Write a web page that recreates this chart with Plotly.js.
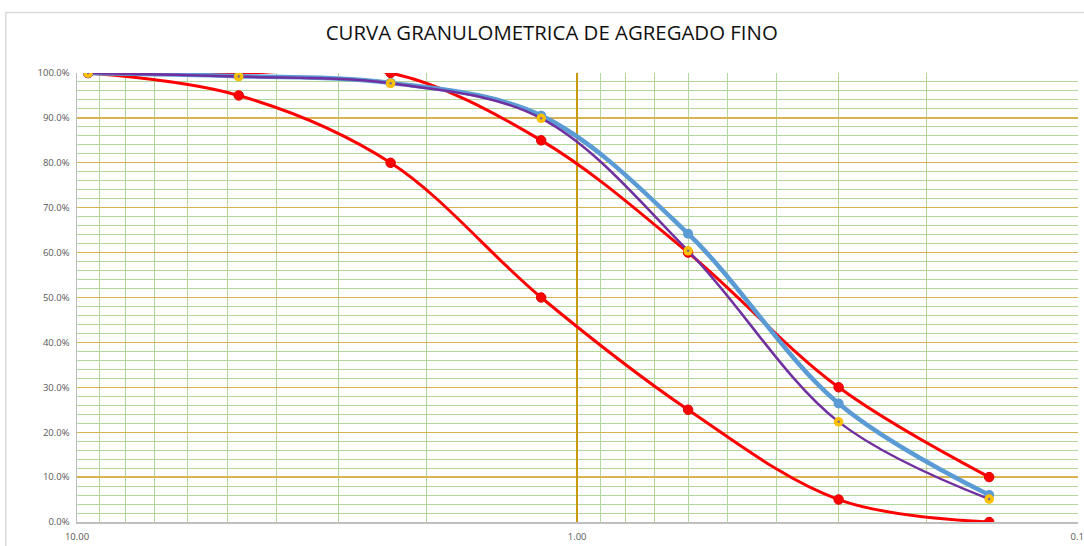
<!DOCTYPE html>
<html>
<head>
<meta charset="utf-8">
<script src="https://cdn.plot.ly/plotly-3.0.1.min.js"></script>
<style>
html,body{margin:0;padding:0;background:#fff;}
#chart{width:1084px;height:546px;}
</style>
</head>
<body>
<div id="chart"></div>
<script>
// Sieve openings (mm)
const sieves = [9.5, 4.75, 2.36, 1.18, 0.6, 0.3, 0.15];
// Upper spec limit (% passing)
const upperLimit = [100, 100, 100, 85, 60, 30, 10];
// Lower spec limit (% passing)
const lowerLimit = [100, 95, 80, 50, 25, 5, 0];
// Sample curve A (blue)
const sampleBlue = [100, 99.3, 97.8, 90.5, 64.2, 26.4, 6.0];
// Sample curve B (purple, yellow markers)
const samplePurple = [100, 99.2, 97.7, 89.9, 60.4, 22.3, 5.1];

const yTickVals = [0,10,20,30,40,50,60,70,80,90,100];
const yTickText = yTickVals.map(v => v.toFixed(1) + '%');
const xMajorVals = [10, 1, 0.1];
const xMajorText = ['10.00', '1.00', '0.1'];
const xMinorVals = [9,8,7,6,5,4,3,2,0.9,0.8,0.7,0.6,0.5,0.4,0.3,0.2];
const xDecadeLogs = [1, 0, -1];

const xRangeLog = [1, -1.0015];

const traces = [
  // helper (no visible mark) so the decade-grid overlay axis is created
  {x: [xDecadeLogs[1]], y: [null], xaxis: 'x2', yaxis: 'y', mode: 'markers', marker: {opacity: 0}, hoverinfo: 'skip'},
  {x: sieves, y: lowerLimit, mode: 'lines+markers', line: {color: '#FF0000', width: 3, shape: 'spline', smoothing: 1},
   marker: {color: '#FF0000', size: 9.5, line: {color: '#E00000', width: 1}}},
  {x: sieves, y: upperLimit, mode: 'lines+markers', line: {color: '#FF0000', width: 3, shape: 'spline', smoothing: 1},
   marker: {color: '#FF0000', size: 9.5, line: {color: '#E00000', width: 1}}},
  {x: sieves, y: sampleBlue, mode: 'lines+markers', line: {color: '#5B9BD5', width: 4.5, shape: 'spline', smoothing: 1},
   marker: {color: '#5B9BD5', size: 10}},
  {x: sieves, y: samplePurple, mode: 'lines+markers', line: {color: '#7030A0', width: 2.5, shape: 'spline', smoothing: 1},
   marker: {color: '#FFC000', size: 9.5}},
  {x: sieves, y: samplePurple, mode: 'markers', marker: {color: '#7F6A8F', size: 2.5}}
];

const tickFont = {family: 'Open Sans, sans-serif', size: 9.5, color: '#595959'};

const layout = {
  width: 1084, height: 546,
  margin: {l: 77, r: 6, t: 73, b: 24},
  paper_bgcolor: '#ffffff', plot_bgcolor: '#ffffff',
  showlegend: false,
  title: {text: 'CURVA GRANULOMETRICA DE AGREGADO FINO', x: 0.509, xanchor: 'center', y: 0.94, yanchor: 'middle',
          font: {family: 'Open Sans, sans-serif', size: 20.4, color: '#111111'}},
  xaxis: {
    type: 'log', range: xRangeLog,
    tickmode: 'array', tickvals: xMajorVals, ticktext: xMajorText,
    showgrid: false,
    minor: {tickmode: 'array', tickvals: xMinorVals, showgrid: true, gridcolor: '#B3D69B', gridwidth: 1, ticks: ''},
    showline: true, linecolor: '#BFBFBF', linewidth: 1.5,
    zeroline: false, ticks: '', ticklen: 0, ticklabelstandoff: 5,
    ticklabeloverflow: 'allow',
    tickfont: tickFont
  },
  xaxis2: {
    type: 'linear', overlaying: 'x', side: 'bottom', range: xRangeLog,
    tickmode: 'array', tickvals: xDecadeLogs, showticklabels: false,
    showgrid: true, gridcolor: '#C99A0E', gridwidth: 1.5,
    showline: false, zeroline: false, ticks: ''
  },
  yaxis: {
    range: [0, 100],
    tickmode: 'array', tickvals: yTickVals, ticktext: yTickText,
    showgrid: true, gridcolor: '#D9B352', gridwidth: 1.3,
    minor: {dtick: 2, showgrid: true, gridcolor: '#B3D69B', gridwidth: 1, ticks: ''},
    showline: true, linecolor: '#BFBFBF', linewidth: 1.5,
    zeroline: false, ticks: '', ticklen: 0, ticklabelstandoff: 4,
    tickfont: tickFont
  },
  shapes: [
    {type: 'rect', xref: 'paper', yref: 'paper', x0: -0.0712, x1: 1.2, y0: -0.2, y1: 1.1345,
     line: {color: '#D9D9D9', width: 1.5}, fillcolor: 'rgba(0,0,0,0)', layer: 'below'}
  ]
};

Plotly.newPlot('chart', traces, layout, {displayModeBar: false, staticPlot: true});
</script>
</body>
</html>
